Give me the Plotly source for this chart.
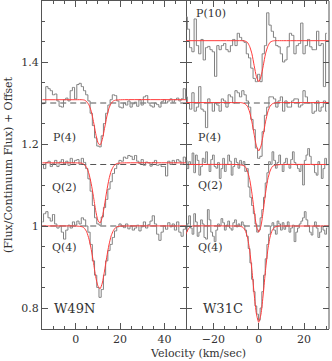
import plotly.graph_objects as go

# ---------------- data ----------------
# W49N (left panel), velocity grid start/step (km/s)
w49_v0, w49_dv = -15, 1.0
w49_p4 = [0.998, 1.000, 1.040, 1.035, 1.030, 1.020, 1.022, 1.005, 0.992, 0.990,
          1.008, 1.012, 1.005, 1.030, 1.038, 1.010, 1.045, 1.048, 1.040, 1.030,
          1.020, 1.005, 0.975, 0.945, 0.915, 0.895, 0.893, 0.920, 0.950, 0.975,
          0.995, 1.008, 1.020, 1.018, 1.005, 0.990, 0.988, 1.000, 0.995, 1.005,
          0.990, 0.998, 1.002, 0.992, 1.008, 0.995, 1.015, 1.018, 1.000, 0.993,
          0.990, 1.000, 0.996, 0.990, 1.003, 1.008, 1.000, 1.005, 1.010, 1.002,
          1.008, 1.012, 1.005, 1.010, 1.035, 1.010]
w49_q2 = [1.000, 0.990, 1.005, 1.008, 0.995, 1.002, 1.010, 0.995, 1.006, 1.012,
          1.002, 1.008, 0.998, 1.015, 1.004, 1.010, 1.012, 1.000, 1.015, 1.005,
          0.990, 0.965, 0.935, 0.900, 0.870, 0.855, 0.852, 0.872, 0.895, 0.915,
          0.940, 0.958, 0.978, 0.990, 1.000, 1.010, 1.008, 1.018, 1.015, 1.022,
          1.020, 1.012, 1.022, 1.008, 1.002, 1.012, 0.998, 1.006, 1.004, 0.996,
          1.005, 1.010, 0.998, 1.000, 0.995, 0.995, 0.972, 1.008, 1.000, 1.010,
          1.004, 1.012, 1.008, 1.000, 1.018, 1.005]
w49_q4 = [1.010, 1.030, 1.035, 1.020, 1.012, 1.028, 1.005, 0.995, 1.000, 0.985,
          0.968, 0.990, 1.002, 0.995, 1.010, 1.002, 1.012, 1.005, 1.020, 1.015,
          1.000, 0.985, 0.955, 0.915, 0.880, 0.850, 0.826, 0.845, 0.880, 0.915,
          0.940, 0.955, 0.972, 0.988, 0.998, 1.005, 1.000, 0.996, 1.005, 0.993,
          1.000, 0.990, 0.995, 1.002, 0.988, 0.998, 1.010, 0.995, 1.003, 1.012,
          1.025, 1.005, 0.980, 0.965, 0.985, 1.000, 0.992, 1.008, 0.998, 1.005,
          0.990, 1.010, 0.985, 0.975, 0.992, 1.000]

# W49N fits (velocity, normalised flux)
w49_p4_fit_v = [-15, 0, 3, 4, 5, 6, 7, 8, 9, 10, 11, 12, 13, 14, 15, 16, 17, 18, 21, 50]
w49_p4_fit = [1.008, 1.008, 1.008, 1.007, 1.003, 0.995, 0.980, 0.955, 0.926, 0.904,
              0.897, 0.911, 0.938, 0.966, 0.987, 0.999, 1.005, 1.007, 1.008, 1.008]
w49_q2_fit_v = [-15, 0, 3, 4, 5, 6, 7, 8, 9, 10, 11, 12, 13, 14, 15, 16, 17, 18, 19, 22, 50]
w49_q2_fit = [1.004, 1.004, 1.003, 0.999, 0.992, 0.977, 0.953, 0.922, 0.888, 0.864,
              0.857, 0.872, 0.901, 0.935, 0.964, 0.984, 0.995, 1.001, 1.003, 1.004, 1.004]
w49_q4_fit_v = [-15, 0, 2, 3, 4, 5, 6, 7, 8, 9, 10, 11, 12, 13, 14, 15, 16, 17, 18, 19, 22, 50]
w49_q4_fit = [1.000, 1.000, 0.999, 0.998, 0.994, 0.985, 0.968, 0.943, 0.911, 0.877,
              0.854, 0.847, 0.861, 0.890, 0.924, 0.954, 0.976, 0.989, 0.996, 0.999, 1.000, 1.000]

# W31C (right panel)
w31_p_v0, w31_p_dv = -32, 1.0
w31_p10 = [1.060, 1.030, 0.985, 0.975, 1.055, 0.990, 0.970, 1.005, 0.955, 0.985,
           0.988, 0.980, 0.975, 0.915, 0.990, 0.980, 0.990, 0.995, 0.980, 0.975,
           0.990, 1.005, 0.990, 1.020, 1.010, 1.002, 0.998, 0.970, 0.960, 0.935,
           0.910, 0.902, 0.920, 0.902, 0.970, 0.990, 1.070, 1.040, 1.025, 1.010,
           0.990, 0.987, 0.970, 0.950, 0.955, 0.987, 1.020, 1.015, 0.970, 0.990,
           0.995, 1.045, 0.970, 0.990, 1.005, 0.987, 0.980, 0.980, 1.025, 0.990,
           0.995, 0.890, 1.020]
w31_p4 = [1.015, 1.000, 0.985, 1.025, 0.980, 0.990, 1.040, 0.985, 0.980, 0.940,
          1.010, 1.000, 0.980, 1.000, 0.995, 0.980, 1.010, 1.005, 0.990, 1.020,
          1.015, 1.000, 1.030, 1.025, 1.015, 1.030, 1.020, 1.005, 0.990, 0.960,
          0.935, 0.890, 0.865, 0.870, 0.930, 0.970, 0.990, 1.015, 1.015, 1.010,
          0.990, 1.005, 1.015, 0.980, 1.005, 0.990, 0.990, 1.005, 1.010, 1.010,
          0.990, 0.995, 1.030, 1.015, 1.000, 1.000, 0.975, 0.980, 1.005, 0.980,
          0.990, 1.005, 0.980]
w31_q_v0, w31_q_dv = -32, 0.75
w31_q2 = [1.010, 0.990, 1.007, 1.000, 1.028, 0.980, 1.023, 1.010, 0.974, 0.995,
          1.015, 1.005, 1.031, 1.000, 0.983, 1.012, 1.023, 0.995, 0.991, 1.005,
          0.966, 0.990, 1.015, 0.983, 1.000, 1.023, 1.008, 0.974, 0.995, 1.015,
          1.005, 0.991, 1.010, 1.000, 1.007, 0.983, 0.990, 0.945, 0.920, 0.900,
          0.880, 0.855, 0.835, 0.840, 0.870, 0.890, 0.920, 0.955, 0.980, 1.007,
          1.000, 1.031, 1.010, 0.991, 1.005, 1.023, 1.000, 0.983, 1.005, 1.015,
          1.000, 0.991, 1.012, 1.031, 1.005, 0.999, 0.990, 0.983, 1.000, 0.950,
          1.010, 1.023, 1.039, 1.020, 1.000, 0.999, 0.980, 0.974, 1.007, 1.000,
          0.966, 0.990, 1.015, 0.999]
w31_q4 = [0.985, 1.005, 1.025, 0.995, 0.980, 1.030, 1.010, 0.975, 0.985, 1.015,
          1.005, 0.972, 0.968, 1.040, 1.015, 0.985, 0.975, 0.962, 0.990, 1.005,
          1.000, 1.018, 1.008, 0.990, 1.002, 1.012, 0.995, 0.990, 1.008, 1.015,
          0.998, 1.005, 1.000, 1.010, 1.002, 0.990, 0.975, 0.945, 0.910, 0.870,
          0.840, 0.805, 0.785, 0.770, 0.800, 0.840, 0.880, 0.920, 0.955, 0.980,
          1.000, 1.008, 0.990, 0.980, 1.012, 1.005, 0.990, 1.008, 0.992, 1.000,
          1.010, 0.985, 0.995, 1.002, 0.962, 0.985, 0.995, 1.005, 1.012, 1.020,
          1.035, 1.015, 1.000, 0.985, 0.978, 1.000, 1.010, 0.995, 0.972, 0.985,
          1.000, 0.990, 0.980, 0.995]

w31_p10_fit_v = [-32, -10, -7, -6, -5, -4, -3, -2, -1, 0, 1, 2, 3, 4, 5, 6, 7, 10, 31.5]
w31_p10_fit = [1.002, 1.002, 1.002, 1.001, 0.998, 0.988, 0.970, 0.941, 0.914, 0.902,
               0.914, 0.941, 0.970, 0.988, 0.998, 1.001, 1.002, 1.002, 1.002]
w31_p4_fit_v = [-32, -10, -8, -7, -6, -5, -4, -3, -2, -1, 0, 1, 2, 3, 4, 5, 6, 7, 8, 10, 31.5]
w31_p4_fit = [1.001, 1.001, 1.001, 1.000, 0.998, 0.992, 0.978, 0.954, 0.923, 0.895, 0.883,
              0.895, 0.923, 0.954, 0.978, 0.992, 0.998, 1.000, 1.001, 1.001, 1.001]
w31_q2_fit_v = [-32, -10, -8, -7, -6, -5, -4, -3, -2, -1, 0, 1, 2, 3, 4, 5, 6, 7, 8, 10, 31.5]
w31_q2_fit = [1.000, 1.000, 0.999, 0.998, 0.995, 0.984, 0.964, 0.930, 0.887, 0.850, 0.835,
              0.850, 0.887, 0.930, 0.964, 0.984, 0.995, 0.998, 0.999, 1.000, 1.000]
w31_q4_fit_v = [-32.5, -32, -31, -30, -29, -10, -9, -8, -7, -6, -5, -4, -3, -2, -1, 0,
                1, 2, 3, 4, 5, 6, 7, 8, 9, 10, 31.5]
w31_q4_fit = [0.975, 0.982, 0.993, 0.999, 1.000, 1.000, 1.000, 0.999, 0.997, 0.990, 0.973,
              0.941, 0.892, 0.834, 0.785, 0.765, 0.785, 0.834, 0.892, 0.941, 0.973, 0.990,
              0.997, 0.999, 1.000, 1.000, 1.000]

offsets = {"P(10)": 0.45, "P(4)": 0.30, "Q(2)": 0.15, "Q(4)": 0.0}

y_ticks = [0.8, 1.0, 1.2, 1.4]
y_tick_labels = ["0.8", "1", "1.2", "1.4"]
x_ticks_left = [0, 20, 40]
x_ticks_right = [-20, 0, 20]

# ---------------- style ----------------
W, H = 332, 361
ML, MR, MT, MB = 42, 3, 1, 32
PW, PH = W - ML - MR, H - MT - MB
split = (186 - ML) / PW
FONT = "DejaVu Serif"
DATA_C = "#808080"
FIT_C = "#ff3a3a"
AX_C = "#555555"
TXT_C = "#333333"


def grid(v0, dv, n):
    return [v0 + i * dv for i in range(n)]


def shift(vals, off):
    return [v + off for v in vals]


fig = go.Figure()


def add_spec(xa, ya, v0, dv, vals, off):
    fig.add_trace(go.Scatter(x=grid(v0, dv, len(vals)), y=shift(vals, off), mode="lines",
                             line=dict(color=DATA_C, width=1, shape="hvh"),
                             xaxis=xa, yaxis=ya, showlegend=False, hoverinfo="skip"))


def add_fit(xa, ya, vs, vals, off):
    fig.add_trace(go.Scatter(x=vs, y=shift(vals, off), mode="lines",
                             line=dict(color=FIT_C, width=1, shape="spline", smoothing=0.6),
                             xaxis=xa, yaxis=ya, showlegend=False, hoverinfo="skip"))


def add_dash(xa, ya, x0, x1, y):
    fig.add_trace(go.Scatter(x=[x0, x1], y=[y, y], mode="lines",
                             line=dict(color="#555555", width=1, dash="6px,4px"),
                             xaxis=xa, yaxis=ya, showlegend=False, hoverinfo="skip"))


# left panel
for off in (0.3, 0.15, 0.0):
    add_dash("x", "y", -16, 51, 1.0 + off)
add_spec("x", "y", w49_v0, w49_dv, w49_p4, offsets["P(4)"])
add_spec("x", "y", w49_v0, w49_dv, w49_q2, offsets["Q(2)"])
add_spec("x", "y", w49_v0, w49_dv, w49_q4, offsets["Q(4)"])
add_fit("x", "y", w49_p4_fit_v, w49_p4_fit, offsets["P(4)"])
add_fit("x", "y", w49_q2_fit_v, w49_q2_fit, offsets["Q(2)"])
add_fit("x", "y", w49_q4_fit_v, w49_q4_fit, offsets["Q(4)"])

# right panel
for off in (0.3, 0.15, 0.0):
    add_dash("x2", "y2", -33, 32, 1.0 + off)
add_spec("x2", "y2", w31_p_v0, w31_p_dv, w31_p10, offsets["P(10)"])
add_spec("x2", "y2", w31_p_v0, w31_p_dv, w31_p4, offsets["P(4)"])
add_spec("x2", "y2", w31_q_v0, w31_q_dv, w31_q2, offsets["Q(2)"])
add_spec("x2", "y2", w31_q_v0, w31_q_dv, w31_q4, offsets["Q(4)"])
add_fit("x2", "y2", w31_p10_fit_v, w31_p10_fit, offsets["P(10)"])
add_fit("x2", "y2", w31_p4_fit_v, w31_p4_fit, offsets["P(4)"])
add_fit("x2", "y2", w31_q2_fit_v, w31_q2_fit, offsets["Q(2)"])
add_fit("x2", "y2", w31_q4_fit_v, w31_q4_fit, offsets["Q(4)"])

yr = [0.8 - 21 / 410, 1.4 + 61 / 410]

common_ax = dict(showgrid=False, zeroline=False, linecolor=AX_C, linewidth=1,
                 mirror="allticks", ticks="inside", ticklen=6, tickcolor=AX_C, tickwidth=1,
                 automargin=False,
                 tickfont=dict(family=FONT, size=11, color=TXT_C))

fig.update_layout(
    template="none",
    width=W, height=H, margin=dict(l=ML, r=MR, t=MT, b=MB, autoexpand=False),
    paper_bgcolor="white", plot_bgcolor="white",
    xaxis=dict(domain=[0, split], range=[-15.2, 49.75], tickvals=x_ticks_left, showline=True,
               minor=dict(dtick=5, tick0=0, ticklen=3, ticks="inside", tickcolor=AX_C),
               anchor="y", **common_ax),
    xaxis2=dict(domain=[split, 1], range=[-32.07, 31.0], tickvals=x_ticks_right, showline=True,
                ticktext=["\u221220", "0", "20"],
                minor=dict(dtick=5, tick0=0, ticklen=3, ticks="inside", tickcolor=AX_C),
                anchor="y2", **common_ax),
    yaxis=dict(domain=[0, 1], range=yr, tickvals=y_ticks, ticktext=y_tick_labels, showline=True,
               minor=dict(dtick=0.05, tick0=0, ticklen=3, ticks="inside", tickcolor=AX_C),
               anchor="x", **common_ax),
    yaxis2=dict(domain=[0, 1], range=yr, tickvals=y_ticks, showticklabels=False, showline=False,
                minor=dict(dtick=0.05, tick0=0, ticklen=3, ticks="inside", tickcolor=AX_C),
                anchor="x2", **common_ax),
)
# right frame edge of the right panel
fig.add_shape(type="line", xref="x2 domain", yref="y2 domain", x0=1, x1=1, y0=0, y1=1,
              line=dict(color=AX_C, width=1))


def px(x, y):
    return (x - ML) / PW, (H - MB - y) / PH


labels = [("P(4)", 64, 137, 11), ("Q(2)", 64, 187, 11), ("Q(4)", 64, 247, 11),
          ("W49N", 74, 308, 13),
          ("P(10)", 211, 13, 11), ("P(4)", 209, 137, 11), ("Q(2)", 210, 186, 11),
          ("Q(4)", 210, 247, 11), ("W31C", 223, 308, 13)]
for t, x, y, s in labels:
    ax_, ay_ = px(x, y)
    fig.add_annotation(text=t, x=ax_, y=ay_, xref="paper", yref="paper", showarrow=False,
                       xanchor="center", yanchor="middle",
                       font=dict(family=FONT, size=s, color=TXT_C))

tx, ty = px(198, 353)
fig.add_annotation(text="Velocity (km/sec)", x=tx, y=ty, xref="paper", yref="paper",
                   showarrow=False, xanchor="center", yanchor="middle",
                   font=dict(family=FONT, size=11, color=TXT_C))
tx, ty = px(8, 165)
fig.add_annotation(text="(Flux/Continuum Flux) + Offset", x=tx, y=ty, xref="paper", yref="paper",
                   showarrow=False, xanchor="center", yanchor="middle", textangle=-90,
                   font=dict(family=FONT, size=11, color=TXT_C))

fig.write_html("out.html", config={"displayModeBar": False, "staticPlot": True},
               post_script="document.body.style.margin='0px';document.body.style.overflow='hidden';")
